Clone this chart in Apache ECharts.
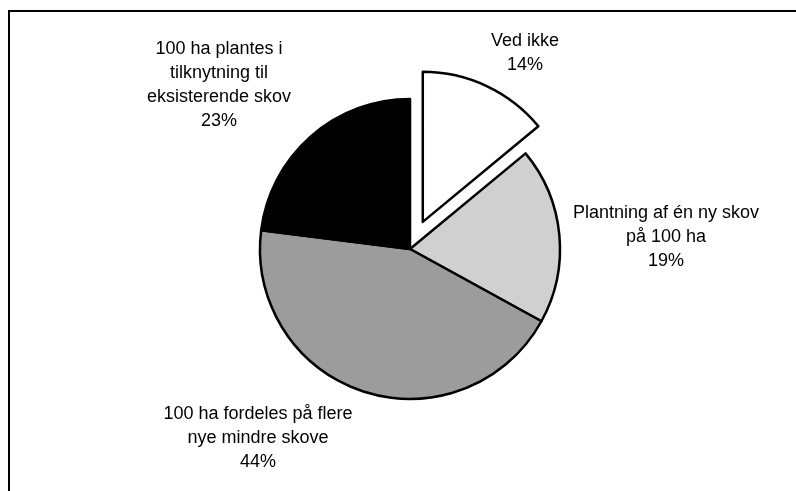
<!DOCTYPE html>
<html>
<head>
<meta charset="utf-8">
<script src="https://cdn.jsdelivr.net/npm/echarts@6/dist/echarts.min.js"></script>
<style>
html,body{margin:0;padding:0;background:#fff;}
#chart{width:796px;height:491px;}
</style>
</head>
<body>
<div id="chart"></div>
<script>
// ---- data ----
var categories = [
  "Ved ikke",
  "Plantning af én ny skov\npå 100 ha",
  "100 ha fordeles på flere\nnye mindre skove",
  "100 ha plantes i\ntilknytning til\neksisterende skov"
];
var values = [14, 19, 44, 23];
var explodedIndex = 0;

// ---- styling / layout (not data) ----
var sliceColors = ["#ffffff", "#d0d0d0", "#9c9c9c", "#000000"];
var labelAnchors = [[525, 51], [666, 237], [258, 438], [219, 85]];
var explodedLabelShift = [-3, -20];

var chart = echarts.init(document.getElementById('chart'), null, {renderer: 'canvas'});

var seriesData = categories.map(function (c, i) {
  var item = {
    name: c,
    value: values[i],
    selected: i === explodedIndex,
    itemStyle: {color: sliceColors[i]}
  };
  if (i === explodedIndex) {
    item.label = {offset: explodedLabelShift};
    item.select = {label: {offset: explodedLabelShift}};
  }
  return item;
});

chart.setOption({
  animation: false,
  backgroundColor: '#ffffff',
  graphic: [{
    type: 'rect',
    shape: {x: 9, y: 11, width: 800, height: 500},
    style: {fill: 'none', stroke: '#000', lineWidth: 2},
    silent: true
  }],
  series: [{
    type: 'pie',
    center: [410, 249],
    radius: 150,
    startAngle: 90,
    clockwise: true,
    selectedMode: 'single',
    selectedOffset: 30,
    avoidLabelOverlap: false,
    itemStyle: {borderColor: '#000', borderWidth: 2.5},
    select: {itemStyle: {borderColor: '#000', borderWidth: 2.5}},
    emphasis: {disabled: true, scale: false},
    label: {
      show: true,
      position: 'outside',
      formatter: function (p) { return p.name + '\n' + p.value + '%'; },
      fontFamily: 'Liberation Sans, Arial, sans-serif',
      fontSize: 18,
      lineHeight: 24,
      color: '#000',
      align: 'center'
    },
    labelLine: {show: false},
    labelLayout: function (params) {
      var a = labelAnchors[params.dataIndex];
      return {x: a[0], y: a[1], align: 'center', verticalAlign: 'middle'};
    },
    data: seriesData
  }]
});
</script>
</body>
</html>
